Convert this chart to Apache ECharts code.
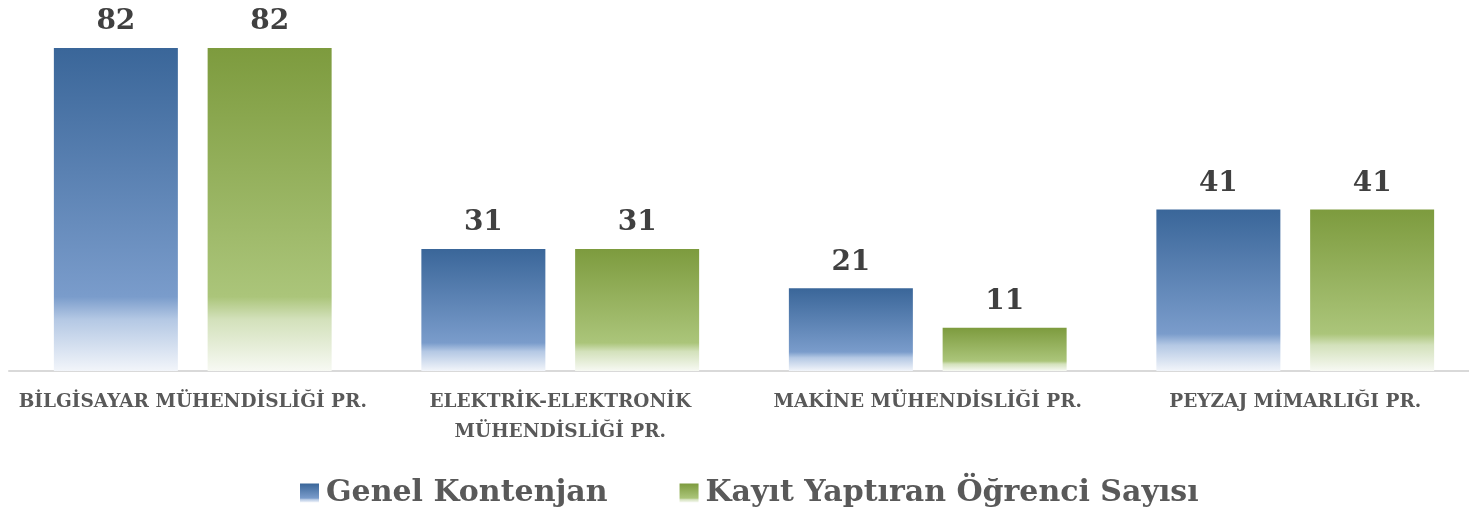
<!DOCTYPE html>
<html>
<head>
<meta charset="utf-8">
<script src="https://cdn.jsdelivr.net/npm/echarts@6/dist/echarts.min.js"></script>
<style>
html,body{margin:0;padding:0;background:#fff;}
#chart{width:1469px;height:512px;}
</style>
</head>
<body>
<div id="chart"></div>
<script>
const categories = [
  "BİLGİSAYAR MÜHENDİSLİĞİ PR.",
  "ELEKTRİK-ELEKTRONİK\nMÜHENDİSLİĞİ PR.",
  "MAKİNE MÜHENDİSLİĞİ PR.",
  "PEYZAJ MİMARLIĞI PR."
];
const seriesNames = ["Genel Kontenjan", "Kayıt Yaptıran Öğrenci Sayısı"];
const genelKontenjan = [82, 31, 21, 41];
const kayitYaptiran = [82, 31, 11, 41];

function grad(top, mid, light, bottom) {
  return new echarts.graphic.LinearGradient(0, 0, 0, 1, [
    {offset: 0, color: top},
    {offset: 0.77, color: mid},
    {offset: 0.84, color: light},
    {offset: 1, color: bottom}
  ]);
}
const blueGrad = grad('#3a6699', '#7a9ccb', '#b4c8e4', '#f2f5fa');
const greenGrad = grad('#7d9b3e', '#abc57a', '#d3e1bb', '#f7f9f3');

const serifFont = '"DejaVu Serif", "Liberation Serif", serif';

const chart = echarts.init(document.getElementById('chart'), null, {renderer: 'canvas'});
chart.setOption({
  animation: false,
  backgroundColor: '#ffffff',
  grid: {left: 9, top: 48, width: 1470, bottom: 141, containLabel: false, outerBoundsMode: 'none'},
  xAxis: {
    type: 'category',
    data: categories,
    axisLine: {lineStyle: {color: '#d9d9d9', width: 2}},
    axisTick: {show: false},
    axisLabel: {
      interval: 0,
      margin: 16,
      color: '#595959',
      fontFamily: serifFont,
      fontWeight: 'bold',
      fontSize: 18.5,
      lineHeight: 30
    }
  },
  yAxis: {
    type: 'value',
    min: 0,
    max: 82,
    show: false,
    splitLine: {show: false}
  },
  legend: {
    left: 295,
    top: 473,
    itemWidth: 19,
    itemHeight: 19,
    itemGap: 72,
    icon: 'rect',
    textStyle: {
      color: '#595959',
      fontFamily: serifFont,
      fontWeight: 'bold',
      fontSize: 30,
      lineHeight: 28,
      padding: [0, 0, 0, 2]
    },
    data: seriesNames
  },
  series: [
    {
      name: seriesNames[0],
      type: 'bar',
      data: genelKontenjan,
      barWidth: 124,
      barGap: '24%',
      itemStyle: {color: blueGrad},
      label: {
        show: true,
        position: 'top',
        distance: 12,
        color: '#404040',
        fontFamily: serifFont,
        fontWeight: 'bold',
        fontSize: 28
      }
    },
    {
      name: seriesNames[1],
      type: 'bar',
      data: kayitYaptiran,
      barWidth: 124,
      itemStyle: {color: greenGrad},
      label: {
        show: true,
        position: 'top',
        distance: 12,
        color: '#404040',
        fontFamily: serifFont,
        fontWeight: 'bold',
        fontSize: 28
      }
    }
  ]
});
</script>
</body>
</html>
